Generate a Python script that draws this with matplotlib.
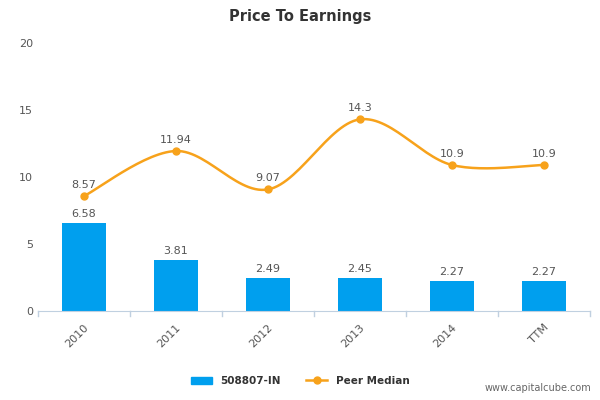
import matplotlib
matplotlib.use("Agg")
import matplotlib.pyplot as plt
import numpy as np

categories = ["2010", "2011", "2012", "2013", "2014", "TTM"]
company = [6.58, 3.81, 2.49, 2.45, 2.27, 2.27]
peer = [8.57, 11.94, 9.07, 14.3, 10.9, 10.9]
yticks = [0, 5, 10, 15, 20]

fig = plt.figure(figsize=(6, 4), dpi=100)
ax = fig.add_axes([0.063, 0.2225, 0.92, 0.67])
x = np.arange(len(categories))
blue = "#009FEE"
orange = "#F7A21B"
ax.bar(x, company, width=0.48, color=blue, zorder=2)
for xi, v in zip(x, company):
    ax.text(xi, v + 0.3, f"{v:g}", ha="center", va="bottom", fontsize=8, color="#555555")

# smooth curve (Catmull-Rom) through the data points
px = np.concatenate([[x[0]], x, [x[-1]]]).astype(float)
py = np.concatenate([[peer[0]], peer, [peer[-1]]])
cx, cy = [], []
t = np.linspace(0, 1, 30)
for i in range(1, len(px) - 2):
    p0, p1, p2, p3 = [np.array([px[j], py[j]]) for j in (i - 1, i, i + 1, i + 2)]
    for tt in t:
        pt = 0.5 * ((2 * p1) + (-p0 + p2) * tt + (2 * p0 - 5 * p1 + 4 * p2 - p3) * tt**2 + (-p0 + 3 * p1 - 3 * p2 + p3) * tt**3)
        cx.append(pt[0]); cy.append(pt[1])
ax.plot(cx, cy, color=orange, lw=1.8, zorder=3)
ax.plot(x, peer, "o", color=orange, ms=5, zorder=4)
for xi, v in zip(x, peer):
    ax.text(xi, v + 0.45, f"{v:g}", ha="center", va="bottom", fontsize=8, color="#555555")

ax.set_xlim(-0.5, len(categories) - 0.5)
ax.set_ylim(0, 20)
ax.set_yticks(yticks)
ax.set_xticks(x)
ax.set_xticklabels(categories, rotation=45, ha="right", rotation_mode="anchor", fontsize=8, color="#555555")
ax.tick_params(axis="y", length=0, labelsize=8, labelcolor="#555555")
ax.tick_params(axis="x", length=0, pad=8)
for xb in np.arange(-0.5, len(categories), 1):
    ax.plot([xb, xb], [0, -0.35], color="#C0D0E0", lw=1, clip_on=False)
for s in ["top", "right", "left"]:
    ax.spines[s].set_visible(False)
ax.spines["bottom"].set_color("#C0D0E0")

fig.text(0.5, 0.96, "Price To Earnings", ha="center", va="center", fontsize=10.5, fontweight="bold", color="#333333")

from matplotlib.lines import Line2D
from matplotlib.patches import Patch
handles = [Patch(color=blue), Line2D([0], [0], color=orange, marker="o", ms=5, lw=1.8)]
fig.legend(handles, ["508807-IN", "Peer Median"], loc="center", bbox_to_anchor=(0.5, 0.048),
           ncol=2, frameon=False, prop={"size": 7.5, "weight": "bold"}, labelcolor="#333333",
           handlelength=2, columnspacing=2.5)
fig.text(0.985, 0.018, "www.capitalcube.com", ha="right", va="bottom", fontsize=7, color="#666666")
fig.savefig("out.png", dpi=100)
